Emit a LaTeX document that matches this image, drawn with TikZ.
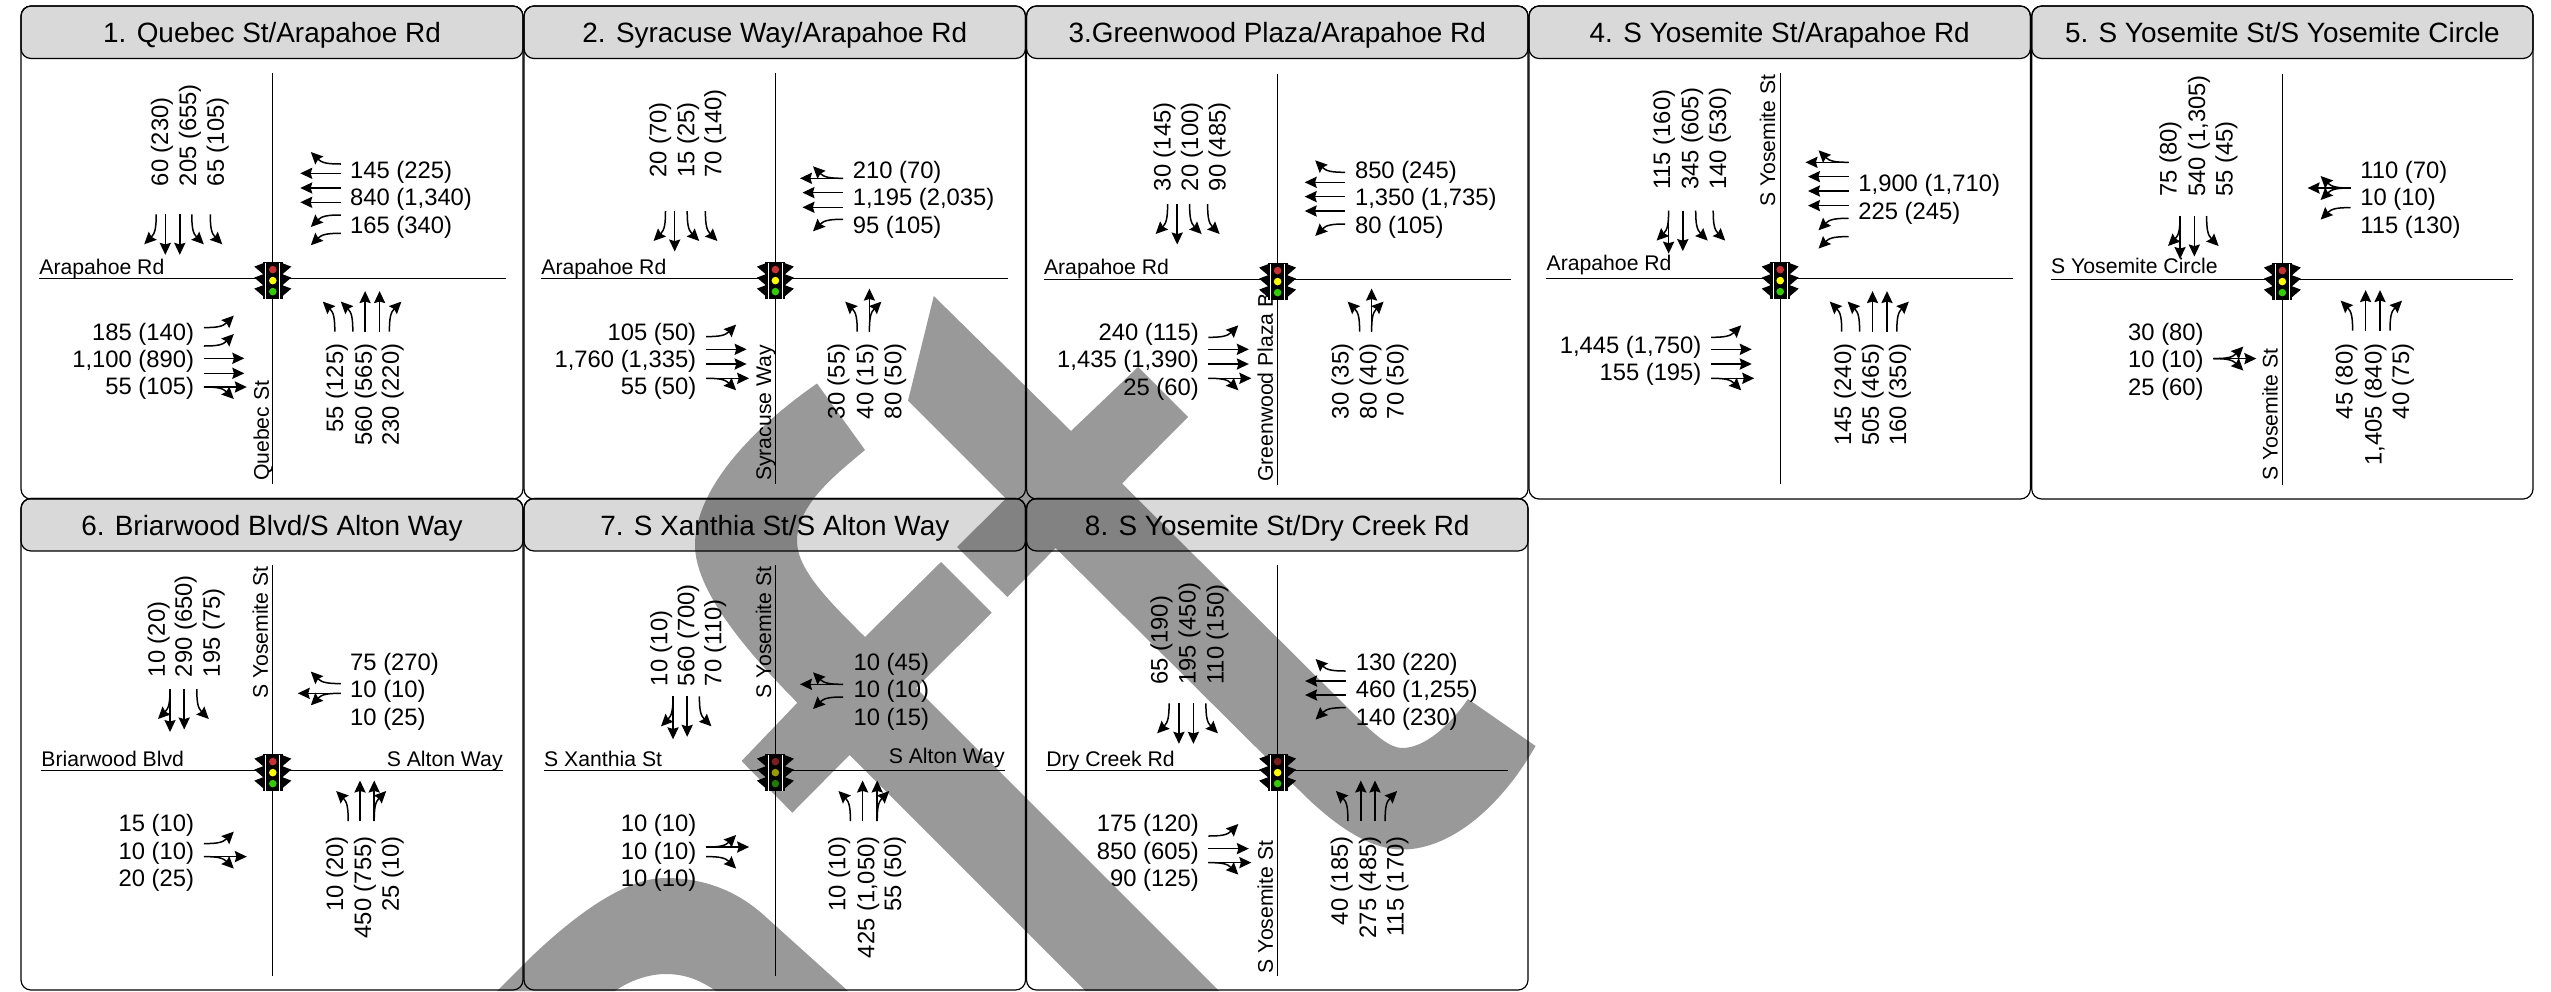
\documentclass[tikz,border=0pt]{standalone}
\usepackage{fontspec}
\setmainfont{Liberation Sans}
\usetikzlibrary{arrows.meta}
\newcounter{nn}
\definecolor{wm}{HTML}{999999}
\tikzset{
  x=.5pt,y=-.5pt,
  lane/.style={line width=.75pt,-{Stealth[length=6pt,width=5.6pt,inset=.8pt]}},
  dirE/.style={x={(.5pt,0pt)},y={(0pt,-.5pt)}},
  dirW/.style={x={(-.5pt,0pt)},y={(0pt,.5pt)}},
  dirN/.style={x={(0pt,.5pt)},y={(.5pt,0pt)}},
  dirS/.style={x={(0pt,-.5pt)},y={(-.5pt,0pt)}},
  num/.style={inner sep=0pt,font=\fontsize{11.9}{14}\selectfont},
  street/.style={inner sep=0pt,font=\fontsize{10.6}{13}\selectfont},
  sbl/.style={num,rotate=90,anchor=base west},
  nbl/.style={num,rotate=90,anchor=base east},
  ebl/.style={num,anchor=base east},
  wbl/.style={num,anchor=base west},
  stv/.style={street,rotate=90,anchor=base west},
  stw/.style={street,anchor=base west},
  ste/.style={street,anchor=base east},
  frame/.style={line width=.6pt,rounded corners=5pt},
  road/.style={line width=.55pt},
  ttl/.style={inner sep=0pt,anchor=base,font=\fontsize{13.95}{16}\selectfont},
}
\newcommand\laneS{(0,0) -- (40.5,0)}
\newcommand\laneT{(0,0) -- (43,0)}
\newcommand\laneR{(0,0) .. controls (13,0) and (19,1) .. (30,12)}
\newcommand\laneL{(0,0) .. controls (13,0) and (19,-1) .. (30,-12)}
\newcommand\Lane[4]{\draw[lane,shift={(#2,#3)},dir#1] \csname lane#4\endcsname;}
\newcommand\SB[2]{\foreach \ty/\pp in {#2} {\Lane{S}{\pp}{#1}{\ty}}}
\newcommand\NB[2]{\foreach \ty/\pp in {#2} {\Lane{N}{\pp}{#1}{\ty}}}
\newcommand\WB[2]{\foreach \ty/\pp in {#2} {\Lane{W}{#1}{\pp}{\ty}}}
\newcommand\EB[2]{\foreach \ty/\pp in {#2} {\Lane{E}{#1}{\pp}{\ty}}}
\newcommand\Tx[4]{\stepcounter{nn}\node[#1] (n\thenn) at (#2,#3) {#4};}
\newcommand\LS[7]{\Tx{sbl}{#2}{#1}{#5}\Tx{sbl}{#3}{#1}{#6}\Tx{sbl}{#4}{#1}{#7}}
\newcommand\LN[7]{\Tx{nbl}{#2}{#1}{#5}\Tx{nbl}{#3}{#1}{#6}\Tx{nbl}{#4}{#1}{#7}}
\newcommand\LE[7]{\Tx{ebl}{#1}{#2}{#5}\Tx{ebl}{#1}{#3}{#6}\Tx{ebl}{#1}{#4}{#7}}
\newcommand\LW[7]{\Tx{wbl}{#1}{#2}{#5}\Tx{wbl}{#1}{#3}{#6}\Tx{wbl}{#1}{#4}{#7}}
% name, left, right, top, bottom, title
\newcommand\Panel[6]{%
  \draw[frame] (#2,#4) rectangle (#3,#5);
  \fill[black,fill opacity=.15,rounded corners=5pt] (#2,#4) rectangle (#3,#4+52.5);
  \draw[frame] (#2,#4) rectangle (#3,#4+52.5);
  \node[ttl] (#1title) at ({(#2+#3)/2},#4+36.7) {#6};
}
% name, west end, east end
\newcommand\Roads[3]{%
  \coordinate (#1w) at (#2,0);
  \coordinate (#1e) at (#3,0);
  \coordinate (#1n) at (0,-205);
  \coordinate (#1s) at (0,205.5);
  \draw[road] (#1w) -- (#1e);
  \draw[road] (#1n) -- (#1s);
}
\newcommand\Signal[3]{%
  \begin{scope}[shift={(0,2.3)}]
    \fill[black] (-10,-18.5) rectangle (10,18.5);
    \foreach \sy in {-14,-3,8} {
      \fill[black] (-8,\sy-4) -- (-18.5,\sy) -- (-8,\sy+9) -- cycle;
      \fill[black] (8,\sy-4) -- (18.5,\sy) -- (8,\sy+9) -- cycle;
    }
    \draw[white,line width=.45pt] (-7,-18) -- (-7,18);
    \draw[white,line width=.45pt] (7,-18) -- (7,18);
    \fill[#1] (0,-11) circle (3.8);
    \fill[#2] (0,0) circle (3.8);
    \fill[#3] (0,11) circle (3.8);
  \end{scope}
}
\definecolor{sr}{HTML}{C83232}
\definecolor{sy}{HTML}{FFFF00}
\definecolor{sg}{HTML}{33CC00}
\definecolor{dr}{HTML}{7A1E1E}
\definecolor{dy}{HTML}{999900}
\definecolor{dg}{HTML}{1F7A00}
\begin{document}
\begin{tikzpicture}
\useasboundingbox (0,0) rectangle (2551,991);
\fill[white] (0,0) rectangle (2551,991);
% watermark
\fill[wm] (817,383.5) .. controls (750,430) and (695,490) .. (695,545)
  .. controls (695,590) and (745,650) .. (797.4,702.7)
  -- (741.6,761) -- (792.3,812.7) -- (849.5,755) -- (1085.7,991) -- (1219,991)
  -- (916,688) -- (991.7,612.7) -- (941,562) -- (865,637)
  .. controls (830,602) and (797,570) .. (797,541)
  .. controls (797,505) and (835,475) .. (865,450) -- cycle;
\fill[wm] (933.8,296) -- (1071,431) -- (1138,367) -- (1188,417) -- (1122,483.5)
  -- (1358,718) .. controls (1375,735) and (1390,748) .. (1402,748)
  .. controls (1425,748) and (1450,725) .. (1468,699)
  -- (1535.5,746) .. controls (1505,800) and (1455,849.5) .. (1402,849.5)
  .. controls (1370,849.5) and (1335,826) .. (1300,791)
  -- (1055.6,548) -- (1007.3,597) -- (957,547) -- (1005.9,498.6) -- (908,400.7) -- cycle;
\fill[wm] (497,991) -- (530,958) .. controls (575,915) and (625,878) .. (665,878)
  .. controls (700,878) and (735,888) .. (767,918) -- (848,991) -- (716,991)
  .. controls (700,980) and (685,974) .. (665.5,974)
  .. controls (650,974) and (630,980) .. (615,991) -- cycle;
% panels
\Panel{p1}{21}{523}{6}{499}{1. Quebec St/Arapahoe Rd}
\Panel{p2}{524}{1025.5}{6}{499}{2. Syracuse Way/Arapahoe Rd}
\Panel{p3}{1026.5}{1528}{6}{499}{3.Greenwood Plaza/Arapahoe Rd}
\Panel{p4}{1529}{2030.4}{6}{499}{4. S Yosemite St/Arapahoe Rd}
\Panel{p5}{2031.7}{2533}{6}{499}{5. S Yosemite St/S Yosemite Circle}
\Panel{p6}{21}{523}{498.5}{990}{6. Briarwood Blvd/S Alton Way}
\Panel{p7}{524}{1025.5}{498.5}{990}{7. S Xanthia St/S Alton Way}
\Panel{p8}{1026.5}{1528}{498.5}{990}{8. S Yosemite St/Dry Creek Rd}
% 1
\begin{scope}[shift={(272.8,278.3)}]
\Roads{a}{-233.8}{233.2}
\Tx{stw}{-233.8}{-4.3}{Arapahoe Rd}
\Tx{stv}{-4}{203}{Quebec St}
\LS{-91.7}{-104.8}{-76.7}{-49}{60 (230)}{205 (655)}{65 (105)}
\LW{77}{-100}{-72.7}{-45.3}{145 (225)}{840 (1,340)}{165 (340)}
\LN{65}{70.3}{99}{126}{55 (125)}{560 (565)}{230 (220)}
\LE{-78.4}{61.7}{89.3}{116}{185 (140)}{1,100 (890)}{55 (105)}
\SB{-64}{R/-116.6,S/-107.5,S/-93,L/-81,L/-62.5}
\WB{68}{R/-114.3,S/-105,S/-90.3,S/-76,L/-63.3,L/-45}
\NB{53.3}{L/62,L/80,S/92.3,S/106.8,R/116.6}
\EB{-69}{L/49.3,L/67.7,S/80,S/95,T/108.7,R/108.7}
\Signal{sr}{sy}{sg}
\end{scope}
% 2
\begin{scope}[shift={(775.4,278.3)}]
\Roads{b}{-234.4}{233}
\Tx{stw}{-234.4}{-4.3}{Arapahoe Rd}
\Tx{stv}{-4.4}{203}{Syracuse Way}
\LS{-100}{-109}{-81}{-54}{20 (70)}{15 (25)}{70 (140)}
\LW{77}{-100}{-72.7}{-45.3}{210 (70)}{1,195 (2,035)}{95 (105)}
\LN{65}{69.3}{98}{126}{30 (55)}{40 (15)}{80 (50)}
\LE{-78.8}{61.7}{89.3}{116}{105 (50)}{1,760 (1,335)}{55 (50)}
\SB{-67.3}{R/-109.9,S/-100.7,L/-88.2,L/-70}
\WB{67.6}{T/-100,R/-100,S/-85.7,S/-71,L/-59}
\NB{53.3}{L/81.8,T/94,R/94}
\EB{-69.3}{L/58.3,S/71,S/85.7,T/100,R/100}
\Signal{sr}{sy}{sg}
\end{scope}
% 3
\begin{scope}[shift={(1277.6,279.3)}]
\Roads{c}{-234}{233}
\Tx{stw}{-234}{-5.3}{Arapahoe Rd}
\Tx{stv}{-4.7}{203}{Greenwood Plaza B}
\LS{-87.7}{-107}{-79.4}{-52}{30 (145)}{20 (100)}{90 (485)}
\LW{77}{-101}{-73.7}{-46.3}{850 (245)}{1,350 (1,735)}{80 (105)}
\LN{64}{71}{99}{126}{30 (35)}{80 (40)}{70 (50)}
\LE{-78.4}{60.7}{88.3}{115.7}{240 (115)}{1,435 (1,390)}{25 (60)}
\SB{-75.3}{R/-110,S/-100.4,L/-88,L/-70}
\WB{67.6}{R/-107,S/-97,S/-82.7,S/-68.3,L/-55.3}
\NB{52.3}{L/82,T/94,R/94}
\EB{-69.3}{L/58,S/70,S/84.7,T/99,R/99}
\Signal{sr}{sy}{sg}
\end{scope}
% 4
\begin{scope}[shift={(1780.2,278.3)}]
\Roads{d}{-234}{233}
\Tx{stw}{-234}{-7.7}{Arapahoe Rd}
\Tx{stv}{-5}{-71}{S Yosemite St}
\LS{-88}{-110}{-81.8}{-54}{115 (160)}{345 (605)}{140 (530)}
\Tx{wbl}{77.8}{-86.7}{1,900 (1,710)}
\Tx{wbl}{77.8}{-59.3}{225 (245)}
\LN{65}{71}{98.6}{126}{145 (240)}{505 (465)}{160 (350)}
\Tx{ebl}{-78.4}{75}{1,445 (1,750)}
\Tx{ebl}{-78.4}{102.3}{155 (195)}
\SB{-67.7}{T/-111.6,R/-111.6,S/-97.4,L/-84.5,L/-67}
\WB{68.3}{T/-116,R/-116,S/-101.7,S/-87.3,S/-72.7,L/-60,L/-41.7}
\NB{53.3}{L/61.5,L/79.4,S/92.3,S/106.8,R/116.6}
\EB{-69}{L/59,S/71,S/85.7,T/100,R/100}
\Signal{sr}{sy}{sg}
\end{scope}
% 5
\begin{scope}[shift={(2282.3,279.3)}]
\Roads{e}{-231.6}{230.4}
\Tx{stw}{-231.6}{-6}{S Yosemite Circle}
\Tx{stv}{-4.7}{202}{S Yosemite St}
\LS{-82}{-105.7}{-77.3}{-49.7}{75 (80)}{540 (1,305)}{55 (45)}
\LW{77.7}{-101}{-73.7}{-46.3}{110 (70)}{10 (10)}{115 (130)}
\LN{64}{70.3}{99.3}{126.7}{45 (80)}{1,405 (840)}{40 (75)}
\LE{-78.3}{60.7}{88.3}{115.7}{30 (80)}{10 (10)}{25 (60)}
\SB{-63.3}{T/-102.3,R/-102.3,S/-88,L/-75.7}
\WB{68.3}{T/-91.3,R/-91.3,L/-91.3,L/-71.7}
\NB{51.3}{L/70.3,S/83.3,S/97.7,R/107.7}
\EB{-69}{T/79.3,L/79.3,R/79.3}
\Signal{sr}{sy}{sg}
\end{scope}
% 6
\begin{scope}[shift={(272.8,770.3)}]
\Roads{f}{-231.8}{230.2}
\Tx{stw}{-231.8}{-4.3}{Briarwood Blvd}
\Tx{ste}{230.2}{-4.3}{S Alton Way}
\Tx{stv}{-5}{-71}{S Yosemite St}
\LS{-92.7}{-108}{-81}{-53}{10 (20)}{290 (650)}{195 (75)}
\LW{77}{-100.3}{-72.7}{-45}{75 (270)}{10 (10)}{10 (25)}
\LN{65.7}{70.3}{98.4}{126}{10 (20)}{450 (755)}{25 (10)}
\LE{-78.4}{61.3}{89}{116.3}{15 (10)}{10 (10)}{20 (25)}
\SB{-81.3}{T/-102.8,R/-102.8,S/-88.6,L/-76}
\WB{68}{R/-86.7,T/-77,L/-77}
\NB{50.7}{L/75.4,S/87.2,S/101.4,R/101.4}
\EB{-69}{L/73.3,T/86.3,R/86.3}
\Signal{sr}{sy}{sg}
\end{scope}
% 7
\begin{scope}[shift={(775.4,770.3)}]
\Roads{g}{-231.6}{229.6}
\Tx{stw}{-231.6}{-4.3}{S Xanthia St}
\Tx{ste}{229.6}{-6.7}{S Alton Way}
\Tx{stv}{-4.4}{-71}{S Yosemite St}
\LS{-83.7}{-108}{-81}{-54}{10 (10)}{560 (700)}{70 (110)}
\LW{77.8}{-100.3}{-72.7}{-45}{10 (45)}{10 (10)}{10 (15)}
\LN{65.7}{70}{99}{125.8}{10 (10)}{425 (1,050)}{55 (50)}
\LE{-78.8}{61.3}{89}{116.3}{10 (10)}{10 (10)}{10 (10)}
\SB{-74}{T/-102.4,R/-102.4,S/-88.2,L/-76}
\WB{67.6}{T/-86,R/-86,L/-73.3}
\NB{50.7}{L/75,S/87.2,S/101.8,R/101.8}
\EB{-69.3}{T/76.7,L/76.7,R/86.3}
\Signal{dr}{dy}{dg}
\end{scope}
% 8
\begin{scope}[shift={(1277.6,770.3)}]
\Roads{h}{-231.6}{230.2}
\Tx{stw}{-231.6}{-4.3}{Dry Creek Rd}
\Tx{stv}{-4.7}{203.3}{S Yosemite St}
\LS{-85.3}{-110}{-82}{-54}{65 (190)}{195 (450)}{110 (150)}
\LW{77.8}{-100.3}{-72.7}{-45}{130 (220)}{460 (1,255)}{140 (230)}
\LN{65.7}{70.3}{98.4}{126}{40 (185)}{275 (485)}{115 (170)}
\LE{-78.4}{61.3}{89}{116.3}{175 (120)}{850 (605)}{90 (125)}
\SB{-67}{R/-108.5,S/-98.7,S/-84.2,L/-71.7}
\WB{68}{R/-99.3,S/-89.3,S/-75.3,L/-62.7}
\NB{50.7}{L/70.3,S/83.2,S/97.4,R/107.5}
\EB{-69.3}{L/65.7,S/78.3,T/92.3,R/92.3}
\Signal{dr}{sy}{sg}
\end{scope}
\end{tikzpicture}
\end{document}
